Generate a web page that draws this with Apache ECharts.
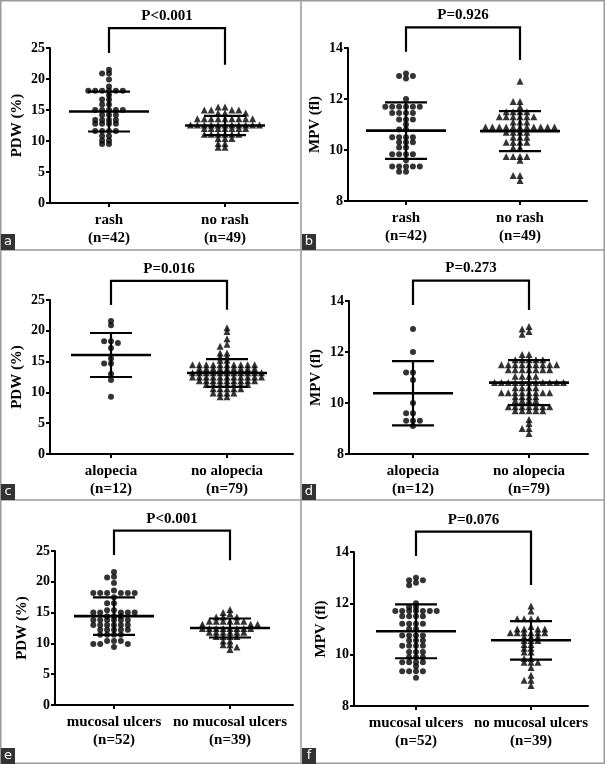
<!DOCTYPE html>
<html><head><meta charset="utf-8">
<script src="https://cdn.jsdelivr.net/npm/echarts/dist/echarts.min.js"></script>
<style>html,body{margin:0;padding:0;background:#fff}#c{width:605px;height:764px}</style>
</head><body><div id="c"></div><script>
// ---------- DATA ----------
const categories = [['rash','no rash'],['rash','no rash'],['alopecia','no alopecia'],['alopecia','no alopecia'],['mucosal ulcers','no mucosal ulcers'],['mucosal ulcers','no mucosal ulcers']];
const groupN = [[42,49],[42,49],[12,79],[12,79],[52,39],[52,39]];
const pLabels = ['P<0.001','P=0.926','P=0.016','P=0.273','P<0.001','P=0.076'];
const panelLetters = ['a','b','c','d','e','f'];
const yTitles = ['PDW (%)','MPV (fl)','PDW (%)','MPV (fl)','PDW (%)','MPV (fl)'];
const pdwTicks = [0,25,5];
const mpvTicks = [8,14,2];

const pdwRash = [21.5,20.9,20.9,19.9,18.8,18.1,18.1,18.1,18.1,18.1,18.1,17.4,16.7,16.7,15.9,15.9,15.0,15.0,15.0,15.0,15.0,14.2,14.2,14.2,13.4,13.4,13.4,13.4,12.8,12.8,12.8,12.8,11.6,11.6,11.6,11.6,10.8,10.8,10.1,10.1,9.5,9.5];
const pdwNoRash = [15.5,15.5,15.0,15.0,15.0,15.0,14.5,14.5,14.5,13.6,13.6,13.6,13.6,13.6,13.6,13.6,13.6,13.6,12.6,12.6,12.6,12.6,12.6,12.6,12.6,12.6,12.6,12.6,12.6,12.0,12.0,12.0,12.0,12.0,12.0,12.0,11.1,11.1,11.1,11.1,11.1,11.1,10.4,10.4,10.4,9.6,9.6,9.0,9.0];
const mpvRash = [13.0,12.9,12.9,12.8,12.0,11.7,11.7,11.7,11.7,11.7,11.7,11.45,11.45,11.45,11.45,11.2,11.2,11.2,11.0,10.8,10.8,10.5,10.5,10.5,10.5,10.3,10.3,10.3,10.1,10.1,9.83,9.83,9.83,9.83,9.6,9.35,9.35,9.35,9.35,9.35,9.15,9.15];
const mpvNoRash = [12.7,11.9,11.9,11.7,11.5,11.5,11.5,11.5,11.3,11.3,11.3,11.3,11.3,11.3,11.1,11.1,11.1,10.9,10.9,10.9,10.9,10.9,10.9,10.9,10.9,10.9,10.9,10.9,10.7,10.7,10.7,10.7,10.5,10.5,10.5,10.3,10.3,10.3,10.3,10.1,10.1,9.75,9.75,9.75,9.75,9.6,9.0,9.0,8.8];
const pdwAlopecia = [21.6,20.9,18.3,18.3,18.0,17.2,15.5,14.7,14.7,13.0,12.0,9.3];
const pdwNoAlopecia = [20.5,19.9,18.7,17.8,17.5,16.4,16.4,15.8,15.8,15.2,15.2,14.5,14.5,14.5,14.5,14.5,14.5,14.5,14.5,14.5,14.5,13.9,13.9,13.9,13.9,13.9,13.9,13.9,13.9,13.9,13.2,13.2,13.2,13.2,13.2,13.2,13.2,13.2,13.2,13.2,13.2,12.5,12.5,12.5,12.5,12.5,12.5,12.5,12.5,12.5,12.5,12.5,11.9,11.9,11.9,11.9,11.9,11.9,11.9,11.9,11.9,11.3,11.3,11.3,11.3,11.3,11.3,11.3,10.6,10.6,10.6,10.6,10.6,9.9,9.9,9.9,9.9,9.3,9.3];
const mpvAlopecia = [12.9,12.0,11.2,11.2,10.9,10.0,9.6,9.6,9.3,9.3,9.3,9.1];
const mpvNoAlopecia = [13.0,12.9,12.8,12.7,11.9,11.9,11.7,11.7,11.7,11.7,11.7,11.5,11.5,11.5,11.5,11.5,11.5,11.5,11.5,11.5,11.3,11.3,11.3,11.3,11.3,11.3,11.3,11.05,11.05,11.05,11.05,10.8,10.8,10.8,10.8,10.8,10.8,10.8,10.8,10.8,10.8,10.8,10.6,10.6,10.6,10.6,10.4,10.4,10.4,10.4,10.4,10.4,10.4,10.4,10.25,10.25,10.25,10.25,10.1,10.1,10.1,10.1,9.85,9.85,9.85,9.85,9.85,9.85,9.85,9.7,9.7,9.7,9.7,9.7,9.35,9.2,9.0,9.0,8.8];
const pdwUlcers = [21.6,20.8,20.7,19.8,18.6,18.2,18.2,18.2,18.2,18.2,18.2,17.5,16.5,16.5,15.4,15.4,15.0,15.0,15.0,15.0,15.0,14.4,14.4,14.4,13.8,13.8,13.8,13.8,13.8,13.8,13.0,13.0,13.0,13.0,13.0,13.0,12.2,12.2,12.2,12.2,12.2,11.4,11.4,11.4,11.4,10.4,10.4,10.4,9.9,9.9,9.9,9.4];
const pdwNoUlcers = [15.5,15.0,14.8,14.3,14.3,14.3,13.6,13.6,13.6,13.6,13.6,13.6,13.1,13.1,13.1,12.4,12.4,12.4,12.4,12.4,12.4,12.4,12.4,11.8,11.8,11.8,11.8,11.8,11.8,11.1,11.1,11.1,11.1,10.4,10.4,9.8,9.8,9.4,9.0];
const mpvUlcers = [13.0,12.9,12.9,12.8,12.7,12.0,11.85,11.85,11.7,11.7,11.7,11.7,11.7,11.7,11.7,11.5,11.5,11.5,11.5,11.2,11.2,11.2,11.2,11.0,11.0,10.75,10.75,10.75,10.75,10.55,10.55,10.55,10.35,10.35,10.35,10.35,10.1,10.1,10.1,9.9,9.9,9.9,9.7,9.7,9.7,9.7,9.55,9.35,9.35,9.35,9.35,9.1];
const mpvNoUlcers = [11.9,11.7,11.4,11.4,11.4,11.4,11.1,11.0,11.0,11.0,11.0,10.85,10.85,10.85,10.85,10.85,10.85,10.7,10.7,10.7,10.55,10.55,10.55,10.4,10.4,10.25,10.25,10.1,10.1,9.85,9.85,9.7,9.7,9.7,9.5,9.2,9.0,9.0,8.8];

const means = [[14.75,12.5],[10.76,10.74],[16.07,13.15],[10.38,10.8],[14.42,12.5],[10.91,10.56]];
const sds = [[3.22,1.55],[1.11,0.785],[3.57,2.25],[1.26,0.88],[3.05,1.54],[1.05,0.75]];
const bracketTop = [28.2,14.81,28.1,14.8,28.3,14.79];
const bracketLegs = [[24.2,22.3],[13.85,13.53],[24.2,23.4],[13.84,13.65],[24.35,23.5],[13.84,12.71]];

const groups = [[pdwRash,pdwNoRash],[mpvRash,mpvNoRash],[pdwAlopecia,pdwNoAlopecia],[mpvAlopecia,mpvNoAlopecia],[pdwUlcers,pdwNoUlcers],[mpvUlcers,mpvNoUlcers]];
const axisTicks = [pdwTicks,mpvTicks,pdwTicks,mpvTicks,pdwTicks,mpvTicks];

// ---------- LAYOUT ----------
const layout = [
  {left:50, top:48, width:248, height:155, c1:109, c2:225},
  {left:348, top:48, width:239, height:153, c1:406, c2:520},
  {left:50, top:300, width:243, height:154, c1:111, c2:227},
  {left:349, top:301, width:239, height:153, c1:413, c2:529},
  {left:55, top:551, width:238, height:154, c1:114, c2:230},
  {left:354, top:552, width:234, height:154, c1:416, c2:531}
];
const FONT = "'Liberation Serif','Times New Roman',serif";
const SLOT = 6.9, ROW = 3.5, MEAN_HALF = 40, SD_HALF = 21;

function swarm(values, cx, pxX, pxY) {
  const sorted = values.slice().sort((a,b)=>b-a);
  const placed = [], out = [];
  for (const v of sorted) {
    for (let k = 0; k < 60; k++) {
      const s = k === 0 ? 0 : (k % 2 ? -Math.ceil(k/2) : Math.ceil(k/2));
      if (!placed.some(p => p.s === s && Math.abs(p.v - v) * pxY < ROW)) {
        placed.push({s, v}); out.push([cx + s * SLOT / pxX, v]); break;
      }
    }
  }
  return out;
}

const grids = [], xAxes = [], yAxes = [], series = [], graphics = [];
layout.forEach((L, i) => {
  const unitPx = L.c2 - L.c1;
  const xmin = 1 - (L.c1 - L.left) / unitPx;
  const xmax = xmin + L.width / unitPx;
  const [ymin, ymax, ystep] = axisTicks[i];
  const pxY = L.height / (ymax - ymin);
  grids.push({left: L.left, top: L.top, width: L.width, height: L.height, containLabel: false});
  const cats = categories[i], ns = groupN[i];
  xAxes.push({
    type: 'value', gridIndex: i, min: xmin, max: xmax,
    splitLine: {show: false},
    axisLine: {show: true, onZero: false, lineStyle: {color: '#000', width: 2}},
    axisTick: {show: true, customValues: [1,2], length: 4, lineStyle: {color: '#000', width: 2}},
    axisLabel: {show: true, customValues: [1,2], margin: 8, color: '#000', fontFamily: FONT, fontWeight: 'bold', fontSize: 15, lineHeight: 18,
      formatter: v => { const k = Math.round(v) - 1; return cats[k] + '\n(n=' + ns[k] + ')'; }}
  });
  yAxes.push({
    type: 'value', gridIndex: i, min: ymin, max: ymax, interval: ystep,
    name: yTitles[i], nameLocation: 'middle', nameRotate: 90, nameGap: 25,
    nameTextStyle: {color: '#000', fontFamily: FONT, fontWeight: 'bold', fontSize: 15},
    splitLine: {show: false},
    axisLine: {show: true, lineStyle: {color: '#000', width: 2}},
    axisTick: {show: true, length: 4, lineStyle: {color: '#000', width: 2}},
    axisLabel: {margin: 5, color: '#000', fontFamily: FONT, fontWeight: 'bold', fontSize: 14}
  });
  groups[i].forEach((vals, g) => {
    series.push({
      type: 'scatter', xAxisIndex: i, yAxisIndex: i,
      symbol: g === 0 ? 'circle' : 'triangle', symbolSize: g === 0 ? 6 : 7,
      itemStyle: {color: '#000'}, silent: true, z: 2,
      data: swarm(vals, g + 1, unitPx, pxY)
    });
  });
  series.push({
    type: 'custom', xAxisIndex: i, yAxisIndex: i, z: 3, silent: true, clip: false,
    data: [[1, means[i][0], sds[i][0]], [2, means[i][1], sds[i][1]]],
    encode: {x: 0, y: 1},
    renderItem: (params, api) => {
      const x = api.value(0), m = api.value(1), s = api.value(2);
      const c = api.coord([x, m]), hi = api.coord([x, m + s]), lo = api.coord([x, m - s]);
      const st = {stroke: '#000', lineWidth: 2.2};
      return {type: 'group', children: [
        {type: 'line', shape: {x1: c[0] - MEAN_HALF, y1: c[1], x2: c[0] + MEAN_HALF, y2: c[1]}, style: {stroke: '#000', lineWidth: 2.6}},
        {type: 'line', shape: {x1: hi[0] - SD_HALF, y1: hi[1], x2: hi[0] + SD_HALF, y2: hi[1]}, style: st},
        {type: 'line', shape: {x1: lo[0] - SD_HALF, y1: lo[1], x2: lo[0] + SD_HALF, y2: lo[1]}, style: st},
        {type: 'line', shape: {x1: hi[0], y1: hi[1], x2: lo[0], y2: lo[1]}, style: st}
      ]};
    }
  });
  series.push({
    type: 'custom', xAxisIndex: i, yAxisIndex: i, z: 3, silent: true, clip: false,
    data: [[1, 2, bracketTop[i], bracketLegs[i][0], bracketLegs[i][1]]],
    encode: {x: [0, 1], y: 2},
    renderItem: (params, api) => {
      const t = api.value(2);
      const a = api.coord([api.value(0), api.value(3)]), b = api.coord([api.value(0), t]);
      const c = api.coord([api.value(1), t]), d = api.coord([api.value(1), api.value(4)]);
      return {type: 'group', children: [
        {type: 'polyline', shape: {points: [a, b, c, d]}, style: {stroke: '#000', lineWidth: 2.2, fill: null}},
        {type: 'text', x: (b[0] + c[0]) / 2, y: b[1] - 12, style: {text: pLabels[i], fill: '#000', font: 'bold 15px ' + FONT, align: 'center', verticalAlign: 'middle'}}
      ]};
    }
  });
});

// frame, dividers and panel letters
graphics.push({type: 'rect', shape: {x: 0.75, y: 0.75, width: 603.5, height: 762.5}, style: {fill: null, stroke: '#9a9a9a', lineWidth: 1.5}, silent: true});
graphics.push({type: 'line', shape: {x1: 301, y1: 0, x2: 301, y2: 764}, style: {stroke: '#9a9a9a', lineWidth: 1.5}, silent: true});
graphics.push({type: 'line', shape: {x1: 0, y1: 250, x2: 605, y2: 250}, style: {stroke: '#9a9a9a', lineWidth: 1.5}, silent: true});
graphics.push({type: 'line', shape: {x1: 0, y1: 500, x2: 605, y2: 500}, style: {stroke: '#9a9a9a', lineWidth: 1.5}, silent: true});
const letterPos = [[1,234],[302,234],[1,484],[302,484],[1,748],[302,748]];
letterPos.forEach((p, i) => {
  graphics.push({type: 'rect', shape: {x: p[0], y: p[1], width: 14, height: 16}, style: {fill: '#333'}, silent: true, z: 10});
  graphics.push({type: 'text', x: p[0] + 7, y: p[1] + 8, style: {text: panelLetters[i], fill: '#fff', font: '13px "DejaVu Sans", sans-serif', align: 'center', verticalAlign: 'middle'}, silent: true, z: 11});
});

const chart = echarts.init(document.getElementById('c'), null, {renderer: 'canvas'});
chart.setOption({
  animation: false, backgroundColor: '#fff',
  grid: grids, xAxis: xAxes, yAxis: yAxes, series: series, graphic: graphics
});
</script></body></html>
